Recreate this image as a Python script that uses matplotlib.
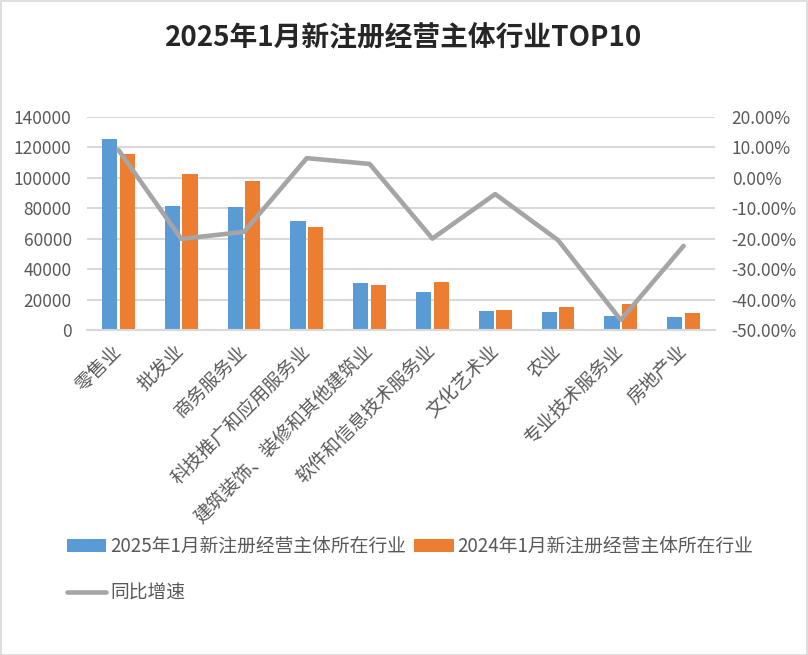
import matplotlib
matplotlib.use('Agg')
import matplotlib.pyplot as plt
import numpy as np
from matplotlib.patches import Rectangle
from matplotlib.ticker import FuncFormatter, MultipleLocator

plt.rcParams['font.family'] = ['Noto Sans CJK SC', 'DejaVu Sans']

# Data
industries = ['零售业', '批发业', '商务服务业', '科技推广和应用服务业', '建筑装饰、装修和其他建筑业',
              '软件和信息技术服务业', '文化艺术业', '农业', '专业技术服务业', '房地产业']
reg_2025 = [125300, 81300, 80700, 71500, 30800, 25200, 12500, 11800, 9200, 8500]
reg_2024 = [115500, 102300, 97700, 67600, 29500, 31700, 13100, 15100, 17100, 11200]
yoy_growth = [0.091, -0.201, -0.178, 0.064, 0.045, -0.200, -0.054, -0.205, -0.467, -0.224]

label_2025 = '2025年1月新注册经营主体所在行业'
label_2024 = '2024年1月新注册经营主体所在行业'
label_yoy = '同比增速'
title = '2025年1月新注册经营主体行业TOP10'

BLUE = '#5B9BD5'
ORANGE = '#ED7D31'
GRAY = '#A5A5A5'
TEXT = '#595959'
GRID = '#D9D9D9'

W, H = 808, 655
fig = plt.figure(figsize=(W / 100, H / 100), dpi=100)
fig.patch.set_facecolor('white')

ax = fig.add_axes([87 / W, 1 - 330 / H, (715 - 87) / W, (330 - 116.7) / H])
x = np.arange(len(industries))
bw = 0.24
off = 0.14
b1 = ax.bar(x - off, reg_2025, width=bw, color=BLUE, zorder=2, label=label_2025)
b2 = ax.bar(x + off, reg_2024, width=bw, color=ORANGE, zorder=2, label=label_2024)

ax.set_xlim(-0.5, len(industries) - 0.5)
ax.set_ylim(0, 140000)
ax.yaxis.set_major_locator(MultipleLocator(20000))
ax.grid(axis='y', color=GRID, linewidth=1.5, zorder=0)
ax.set_axisbelow(True)
for s in ['top', 'right', 'left']:
    ax.spines[s].set_visible(False)
ax.spines['bottom'].set_color(GRID)
ax.spines['bottom'].set_linewidth(1.5)
ax.tick_params(axis='both', length=0, colors=TEXT, labelsize=12.5)
ax.tick_params(axis='y', pad=11)
ax.set_xticks(x)
ax.set_xticklabels(industries, rotation=45, ha='right', va='center',
                   rotation_mode='anchor', fontsize=13.5, color=TEXT)
ax.tick_params(axis='x', pad=13)

ax2 = ax.twinx()
line, = ax2.plot(x, yoy_growth, color=GRAY, linewidth=3.3, zorder=3,
                 solid_capstyle='round', label=label_yoy)
ax2.set_ylim(-0.5, 0.2)
ax2.yaxis.set_major_locator(MultipleLocator(0.1))
ax2.yaxis.set_major_formatter(FuncFormatter(lambda v, p: f'{v * 100:.2f}%'))
for s in ax2.spines.values():
    s.set_visible(False)
ax2.tick_params(axis='y', length=0, colors=TEXT, labelsize=12.5, pad=12)

fig.text(0.5, 1 - 38 / H, title, ha='center', va='center',
         fontsize=20, fontweight='bold', color='#262626')

leg = fig.legend([b1, line, b2], [label_2025, label_yoy, label_2024],
                 loc='upper left', bbox_to_anchor=(67 / W, 1 - 536 / H),
                 ncol=2, frameon=False, fontsize=13.5, borderpad=0, borderaxespad=0,
                 handlelength=2.1, handletextpad=0.2, columnspacing=0.45,
                 labelspacing=1.35, labelcolor=TEXT)

fig.patches.append(Rectangle((0.5 / W, 0.5 / H), 1 - 1.5 / W, 1 - 1.5 / H,
                             transform=fig.transFigure, fill=False,
                             edgecolor=GRID, linewidth=1.2))

fig.savefig('out.png', dpi=100, facecolor='white')
